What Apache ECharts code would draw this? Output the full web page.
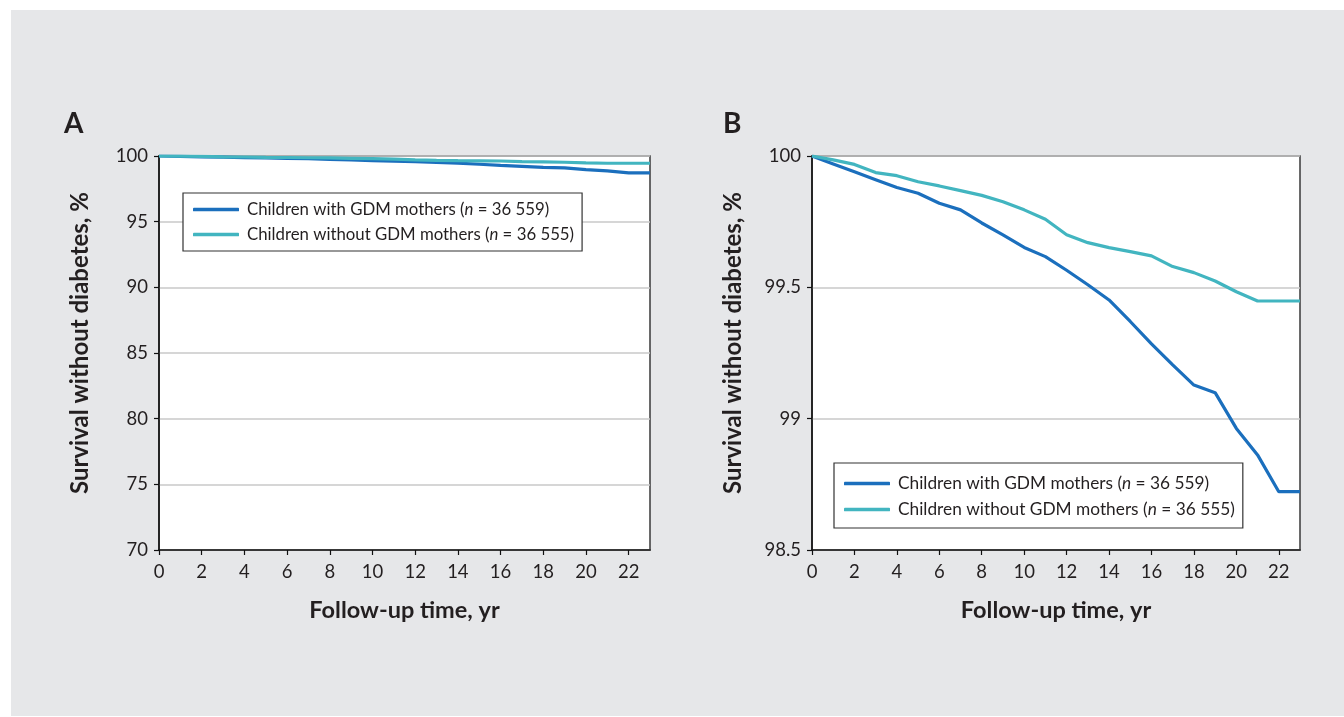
<!DOCTYPE html>
<html>
<head>
<meta charset="utf-8">
<script src="https://cdn.jsdelivr.net/npm/echarts@6/dist/echarts.min.js"></script>
<style>
html,body{margin:0;padding:0;background:#fff;}
#chart{width:1344px;height:717px;}
</style>
</head>
<body>
<div id="chart"></div>
<script>
// Data (follow-up years and survival without diabetes, %)
const years = [0,1,2,3,4,5,6,7,8,9,10,11,12,13,14,15,16,17,18,19,20,21,22,23];
const withGDM = [100,99.97,99.94,99.91,99.88,99.858,99.82,99.795,99.745,99.70,99.652,99.617,99.565,99.51,99.452,99.37,99.285,99.205,99.128,99.099,98.963,98.862,98.722,98.722];
const withoutGDM = [100,99.985,99.968,99.937,99.925,99.902,99.886,99.868,99.85,99.826,99.795,99.759,99.70,99.67,99.651,99.636,99.62,99.579,99.556,99.524,99.483,99.448,99.448,99.448];
const seriesNames = ['Children with GDM mothers', 'Children without GDM mothers'];
const seriesN = ['36 559', '36 555'];
const panelLabels = ['A', 'B'];
const xAxisTitle = 'Follow-up time, yr';
const yAxisTitle = 'Survival without diabetes, %';
const yRangeA = [70, 100, 5];
const yRangeB = [98.5, 100, 0.5];
const xRange = [0, 23, 2];

const FONT = 'Lato, "Noto Sans", sans-serif';
const DARK = '#1b6fbd';
const TEAL = '#42b5c0';
const TXT = '#231f20';

const chart = echarts.init(document.getElementById('chart'), null, {renderer: 'canvas'});

function pairs(arr) { return years.map((y, i) => [y, arr[i]]); }

function xAxis(gi) {
  return {
    type: 'value', gridIndex: gi, min: xRange[0], max: xRange[1], interval: xRange[2],
    name: xAxisTitle, nameLocation: 'middle', nameGap: 48,
    nameTextStyle: {fontFamily: FONT, fontWeight: 'bold', fontSize: 23.5, color: TXT},
    axisLine: {show: true, lineStyle: {color: '#111', width: 1.5}},
    axisTick: {show: true, length: 5, lineStyle: {color: '#111', width: 1.2}},
    axisLabel: {fontFamily: FONT, fontSize: 18.5, color: TXT, margin: 13, showMaxLabel: false},
    splitLine: {show: false}
  };
}
function yAxis(gi, r) {
  return {
    type: 'value', gridIndex: gi, min: r[0], max: r[1], interval: r[2],
    name: yAxisTitle, nameLocation: 'middle', nameGap: 67, nameRotate: 90,
    nameTextStyle: {fontFamily: FONT, fontWeight: 'bold', fontSize: 24, color: TXT, padding: [0, 0, 0, 20]},
    axisLine: {show: true, lineStyle: {color: '#111', width: 1.5}},
    axisTick: {show: true, length: 5, lineStyle: {color: '#111', width: 1.2}},
    axisLabel: {fontFamily: FONT, fontSize: 18.5, color: TXT, margin: 11},
    splitLine: {show: true, lineStyle: {color: '#c9c9c9', width: 1.5}}
  };
}
function legend(gi, left, top, fs, gap, pad) {
  return {
    show: true, orient: 'vertical', left: left, top: top,
    data: seriesNames.map((n) => ({name: n + ' ' + gi})),
    formatter: (name) => {
      const idx = name.startsWith(seriesNames[1]) ? 1 : 0;
      return seriesNames[idx] + ' ({i|n} = ' + seriesN[idx] + ')';
    },
    icon: 'roundRect', itemWidth: 46, itemHeight: 3.5, itemGap: gap,
    padding: pad,
    borderColor: '#333', borderWidth: 1.2, backgroundColor: '#fff',
    textStyle: {fontFamily: FONT, fontSize: fs, color: TXT, padding: [0, 0, 0, 3],
      rich: {i: {fontFamily: FONT, fontSize: fs, fontStyle: 'italic', color: TXT}}}
  };
}
function line(gi, name, arr, color) {
  return {
    type: 'line', name: name + ' ' + gi, xAxisIndex: gi, yAxisIndex: gi,
    data: pairs(arr), showSymbol: false, symbol: 'none',
    lineStyle: {color: color, width: 3.2}, itemStyle: {color: color}, z: 3
  };
}

const option = {
  animation: false,
  backgroundColor: '#ffffff',
  graphic: [
    {type: 'rect', shape: {x: 11, y: 10, width: 1340, height: 706}, style: {fill: '#e6e7e9'}, z: -10, silent: true},
    {type: 'text', left: 64, top: 110, style: {text: panelLabels[0], font: 'bold 28px ' + FONT, fill: TXT}},
    {type: 'text', left: 723, top: 110, style: {text: panelLabels[1], font: 'bold 28px ' + FONT, fill: TXT}}
  ],
  grid: [
    {left: 159, top: 156, width: 491, height: 394, show: true, backgroundColor: '#fff', borderColor: '#3a3a3a', borderWidth: 1.5},
    {left: 812, top: 156, width: 488, height: 394, show: true, backgroundColor: '#fff', borderColor: '#3a3a3a', borderWidth: 1.5}
  ],
  xAxis: [xAxis(0), xAxis(1)],
  yAxis: [yAxis(0, yRangeA), yAxis(1, yRangeB)],
  legend: [legend(0, 183, 193, 16.8, 8, [8, 8, 8, 10]), legend(1, 834, 463, 17.3, 9, [12, 8, 10, 10])],
  series: [
    line(0, seriesNames[0], withGDM, DARK),
    line(0, seriesNames[1], withoutGDM, TEAL),
    line(1, seriesNames[0], withGDM, DARK),
    line(1, seriesNames[1], withoutGDM, TEAL)
  ]
};
chart.setOption(option);
</script>
</body>
</html>
